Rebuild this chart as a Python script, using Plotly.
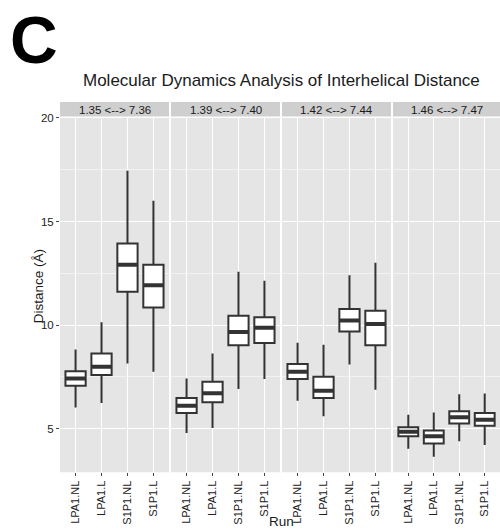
import plotly.graph_objects as go

facets = ["1.35 <--> 7.36", "1.39 <--> 7.40", "1.42 <--> 7.44", "1.46 <--> 7.47"]
runs = ["LPA1.NL", "LPA1.L", "S1P1.NL", "S1P1.L"]

# per facet, per run
lower = [[6.03, 6.24, 8.15, 7.75],
         [4.80, 5.04, 6.92, 7.40],
         [6.35, 5.60, 8.10, 6.88],
         [4.03, 3.65, 4.40, 4.21]]
q1 = [[7.08, 7.59, 11.61, 10.85],
      [5.76, 6.28, 9.03, 9.14],
      [7.40, 6.48, 9.70, 9.03],
      [4.64, 4.29, 5.25, 5.15]]
med = [[7.43, 7.99, 12.92, 11.93],
       [6.11, 6.71, 9.67, 9.87],
       [7.75, 6.83, 10.22, 10.06],
       [4.85, 4.64, 5.55, 5.44]]
q3 = [[7.78, 8.63, 13.94, 12.92],
      [6.48, 7.27, 10.46, 10.38],
      [8.13, 7.51, 10.78, 10.70],
      [5.07, 4.91, 5.84, 5.76]]
upper = [[8.82, 10.14, 17.45, 16.00],
         [7.43, 8.63, 12.58, 12.14],
         [9.15, 9.06, 12.41, 13.01],
         [5.68, 5.79, 6.67, 6.70]]

yticks = [5, 10, 15, 20]

W, H = 500, 531
panel_px = [(60, 169), (171, 280), (282, 391), (393, 502)]
ytop_px, ybot_px = 113, 471.7
strip_top_px = 98

BOX_W = 0.78
LINE = "#333333"
FONT = "Liberation Sans, Arial"

fig = go.Figure()
layout = {}
for f in range(4):
    xa = "x" if f == 0 else f"x{f+1}"
    ya = "y" if f == 0 else f"y{f+1}"
    for i, r in enumerate(runs):
        fig.add_trace(go.Box(
            x=[i], q1=[q1[f][i]], median=[med[f][i]], q3=[q3[f][i]],
            lowerfence=[lower[f][i]], upperfence=[upper[f][i]],
            xaxis=xa, yaxis=ya, width=BOX_W, whiskerwidth=0,
            fillcolor="white", line=dict(color=LINE, width=2),
            boxpoints=False, showlegend=False, hoverinfo="skip"))
        # thicker median line (ggplot style)
        fig.add_trace(go.Scatter(
            x=[i - BOX_W / 2 + 0.02, i + BOX_W / 2 - 0.02], y=[med[f][i], med[f][i]],
            mode="lines", line=dict(color=LINE, width=4),
            xaxis=xa, yaxis=ya, showlegend=False, hoverinfo="skip"))
    x0, x1 = panel_px[f]
    layout["xaxis" if f == 0 else f"xaxis{f+1}"] = dict(
        domain=[x0 / W, min(x1 / W, 1.0)], anchor=ya, range=[-0.6, 3.6],
        tickmode="array", tickvals=list(range(4)), ticktext=runs,
        tickangle=-90, tickfont=dict(family=FONT, size=11, color="#222222"),
        showgrid=True, gridcolor="white", gridwidth=1,
        ticks="outside", ticklen=3, tickcolor="#444444",
        zeroline=False, showline=False, fixedrange=True)
    layout["yaxis" if f == 0 else f"yaxis{f+1}"] = dict(
        domain=[1 - ybot_px / H, 1 - ytop_px / H], anchor=xa, range=[2.9, 20.05],
        matches=None if f == 0 else "y",
        tickmode="array", tickvals=yticks, ticktext=[str(t) for t in yticks],
        showticklabels=(f == 0),
        ticks="outside" if f == 0 else "", ticklen=3, tickcolor="#444444",
        tickfont=dict(family=FONT, size=11.5, color="#222222"),
        showgrid=True, gridcolor="white", gridwidth=1,
        minor=dict(tickmode="array", tickvals=[7.5, 12.5, 17.5], showgrid=True,
                   gridcolor="#f2f2f2", gridwidth=0.6),
        zeroline=False, showline=False, fixedrange=True)

shapes = []
annotations = []
for f in range(4):
    x0, x1 = panel_px[f]
    shapes.append(dict(type="rect", xref="paper", yref="paper",
                       x0=x0 / W, x1=min(x1 / W, 1.0),
                       y0=1 - ytop_px / H, y1=1 - ybot_px / H,
                       fillcolor="#e5e5e5", line=dict(width=0), layer="below"))
    shapes.append(dict(type="rect", xref="paper", yref="paper",
                       x0=x0 / W, x1=min(x1 / W, 1.0),
                       y0=1 - (ytop_px - 0.5) / H, y1=1 - strip_top_px / H,
                       fillcolor="#cfcfcf", line=dict(width=0), layer="below"))
    annotations.append(dict(text=facets[f], xref="paper", yref="paper",
                            x=(x0 + min(x1, 500)) / 2 / W, y=1 - (strip_top_px + ytop_px) / 2 / H,
                            xanchor="center", yanchor="middle", showarrow=False,
                            font=dict(family=FONT, size=11.5, color="#1a1a1a")))

annotations += [
    dict(text="<b>C</b>", xref="paper", yref="paper", x=8 / W, y=1 - 35 / H,
         xanchor="left", yanchor="middle", showarrow=False,
         font=dict(family=FONT, size=66, color="black")),
    dict(text="Molecular Dynamics Analysis of Interhelical Distance", xref="paper", yref="paper",
         x=281 / W, y=1 - 76 / H, xanchor="center", yanchor="middle", showarrow=False,
         font=dict(family=FONT, size=17, color="#1a1a1a")),
    dict(text="Distance (Å)", xref="paper", yref="paper", x=38 / W, y=1 - 284 / H,
         xanchor="center", yanchor="middle", showarrow=False, textangle=-90,
         font=dict(family=FONT, size=13.5, color="#1a1a1a")),
    dict(text="Run", xref="paper", yref="paper", x=281 / W, y=0,
         xanchor="center", yanchor="bottom", showarrow=False,
         font=dict(family=FONT, size=13.5, color="#1a1a1a")),
]

fig.update_layout(width=W, height=H, margin=dict(l=0, r=0, t=0, b=0),
                  paper_bgcolor="white", plot_bgcolor="rgba(0,0,0,0)",
                  shapes=shapes, annotations=annotations, **layout)

fig.write_html("out.html", config={"displayModeBar": False},
               post_script="document.body.style.margin='0';document.body.style.padding='0';"
                           "document.body.style.overflow='hidden';")
